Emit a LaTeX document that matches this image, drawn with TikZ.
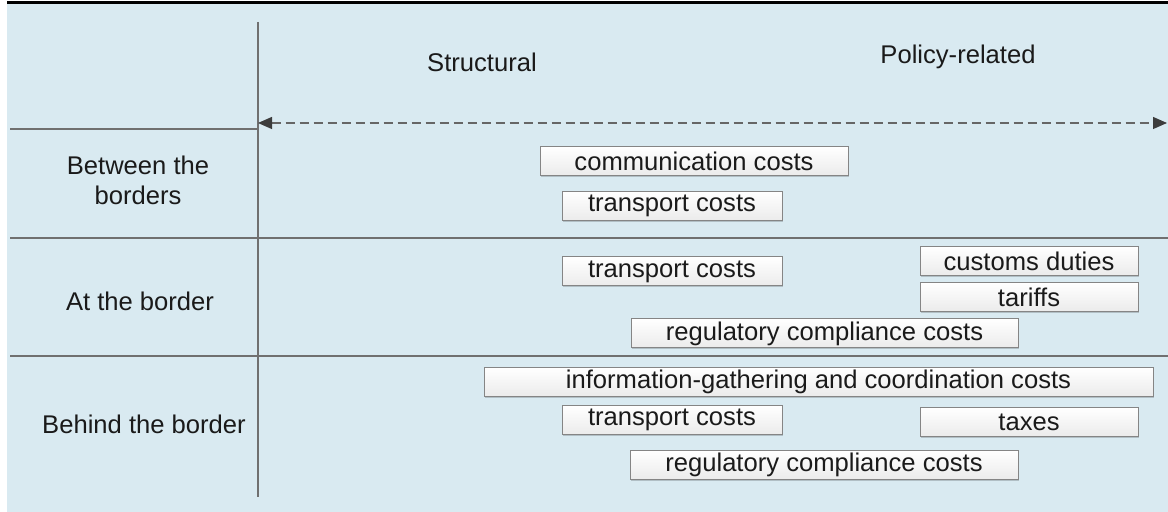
\documentclass[tikz,border=0pt]{standalone}
\usepackage{fontspec}
\setmainfont{Liberation Sans}
\usetikzlibrary{arrows.meta,shadows}

\definecolor{Backdrop}{HTML}{D9EAF1}
\definecolor{GridLine}{HTML}{707070}
\definecolor{AxisLine}{HTML}{666666}
\definecolor{AxisTip}{HTML}{3C3C3C}
\definecolor{BoxLine}{HTML}{858585}
\definecolor{BoxFill}{HTML}{EBEBEB}
\definecolor{Ink}{HTML}{1A1A1A}

\tikzstyle{grid-line}=[draw=GridLine, line width=0.8pt]
\tikzstyle{row-label}=[align=center, text=Ink, font=\fontsize{12.8}{15}\selectfont, inner sep=0pt]
\tikzstyle{col-label}=[text=Ink, font=\fontsize{12.8}{15}\selectfont, inner sep=0pt]
\tikzstyle{cost-box}=[draw=BoxLine, line width=0.5pt, top color=white, bottom color=BoxFill, drop shadow={shadow xshift=0.7pt, shadow yshift=-0.7pt, fill=black, opacity=0.18}, minimum height=14.5pt, inner sep=0pt, text=Ink, font=\fontsize{12.8}{15}\selectfont]

\begin{document}
\begin{tikzpicture}[x=0.5pt, y=-0.5pt]
      \useasboundingbox (0,0) rectangle (1168,512);
      \fill[Backdrop] (7,4) rectangle (1168,512);
      \fill[black] (7,1.5) rectangle (1168,4);

      \coordinate (grid-top) at (258,22);
      \coordinate (grid-bottom) at (258,497);
      \coordinate (grid-head-left) at (10,129);
      \coordinate (grid-head-right) at (258,129);
      \coordinate (grid-row2-left) at (10,238);
      \coordinate (grid-row2-right) at (1168,238);
      \coordinate (grid-row3-left) at (10,356);
      \coordinate (grid-row3-right) at (1168,356);
      \draw[grid-line] (grid-top) -- (grid-bottom);
      \draw[grid-line] (grid-head-left) -- (grid-head-right);
      \draw[grid-line] (grid-row2-left) -- (grid-row2-right);
      \draw[grid-line] (grid-row3-left) -- (grid-row3-right);

      \coordinate (axis-left) at (258,123);
      \coordinate (axis-right) at (1167,123);
      \draw[AxisLine, line width=0.6pt, dash pattern=on 4.5pt off 2.5pt, {Triangle[length=7pt,width=6pt,color=AxisTip]}-{Triangle[length=7pt,width=6pt,color=AxisTip]}] (axis-left) -- (axis-right);

      \node (col-structural) at (482,62) [col-label] {Structural};
      \node (col-policy) at (958,57) [col-label] {Policy-related};

      \node (row-between) at (138,180) [row-label] {Between the\\borders};
      \node (row-at) at (140,301) [row-label] {At the border};
      \node (row-behind) at (144,424) [row-label] {Behind the border};

      \node (cost-1) at (694,161) [cost-box, minimum width=154pt] {communication costs};
      \node (cost-2) at (672,206) [cost-box, minimum width=110pt] {transport costs};

      \node (cost-3) at (672,271.5) [cost-box, minimum width=110pt] {transport costs};
      \node (cost-4) at (1029,261) [cost-box, minimum width=109pt] {customs duties};
      \node (cost-5) at (1029,297) [cost-box, minimum width=109pt] {tariffs};
      \node (cost-6) at (824.5,333.5) [cost-box, minimum width=193.5pt] {regulatory compliance costs};

      \node (cost-7) at (818.5,382) [cost-box, minimum width=334.5pt] {information-gathering and coordination costs};
      \node (cost-8) at (672,420) [cost-box, minimum width=110pt] {transport costs};
      \node (cost-9) at (1029,422) [cost-box, minimum width=109pt] {taxes};
      \node (cost-10) at (824,465) [cost-box, minimum width=194pt] {regulatory compliance costs};
\end{tikzpicture}
\end{document}
